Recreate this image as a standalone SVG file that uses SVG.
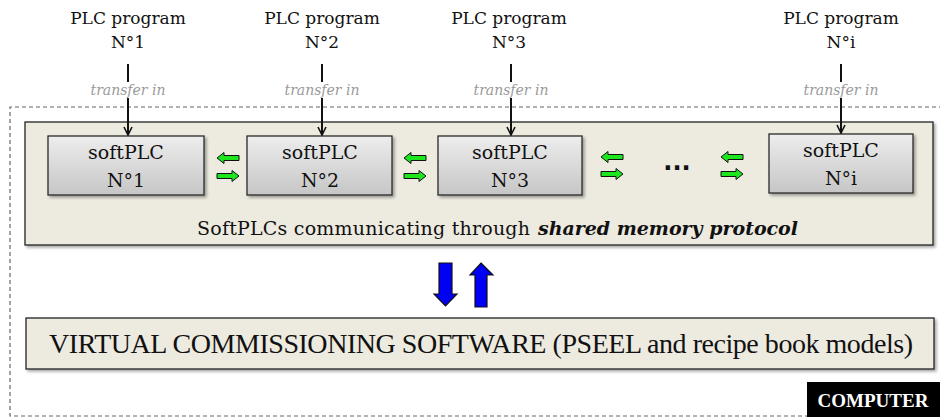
<svg xmlns="http://www.w3.org/2000/svg" width="940" height="417" viewBox="0 0 940 417">
<defs>
<style>
.ttl{font-family:"DejaVu Serif","Liberation Serif",serif;font-size:17px;fill:#111;text-anchor:middle}
.tin{font-family:"DejaVu Serif","Liberation Serif",serif;font-size:14px;font-style:italic;fill:#9a9a9a;text-anchor:middle}
.plc{font-family:"DejaVu Serif","Liberation Serif",serif;font-size:19px;fill:#111;text-anchor:middle}
.box{fill:url(#gg);stroke:#2a2a2a;stroke-width:1.3}
.beige{fill:#EDEAE0;stroke:#222;stroke-width:1.3}
.feed{stroke:#111;stroke-width:2;fill:none}
.grn{fill:#1EE61E;stroke:#111;stroke-width:1}
.blu{fill:#0000F5;stroke:#111;stroke-width:1.2}
</style>
<linearGradient id="gg" x1="0" y1="0" x2="0" y2="1">
<stop offset="0" stop-color="#EDEDED"/>
<stop offset="1" stop-color="#C6C6C6"/>
</linearGradient>
<filter id="sh" x="-10%" y="-10%" width="120%" height="130%">
<feDropShadow dx="2" dy="2" stdDeviation="1.5" flood-color="#000" flood-opacity="0.35"/>
</filter>
<marker id="ah" viewBox="0 0 10 10" refX="9" refY="5" markerWidth="10" markerHeight="10" markerUnits="userSpaceOnUse" orient="auto">
<path d="M1,1 L9,5 L1,9" fill="none" stroke="#111" stroke-width="1.6"/>
</marker>
<path id="gl" d="M0,0 L7,-5.5 L7,-2.5 L22,-2.5 L22,2.5 L7,2.5 L7,5.5 Z"/>
<path id="gr" d="M22,0 L15,-5.5 L15,-2.5 L0,-2.5 L0,2.5 L15,2.5 L15,5.5 Z"/>
</defs>
<rect width="940" height="417" fill="#fff"/>

<g id="computer">
<path d="M950,107 L10,107 L10,416 L950,416" fill="none" stroke="#666" stroke-width="1.2" stroke-dasharray="4,3"/>
<rect x="807" y="382" width="133" height="35" fill="#000"/>
<text x="873" y="407" text-anchor="middle" style="font-family:'Liberation Serif','DejaVu Serif',serif;font-size:19px;font-weight:bold;fill:#fff">COMPUTER</text>
</g>

<g id="programs">
<text class="ttl" x="128" y="24">PLC program</text><text class="ttl" x="128" y="48">N°1</text>
<text class="ttl" x="322" y="24">PLC program</text><text class="ttl" x="322" y="48">N°2</text>
<text class="ttl" x="509" y="24">PLC program</text><text class="ttl" x="509" y="48">N°3</text>
<text class="ttl" x="841" y="24">PLC program</text><text class="ttl" x="841" y="48">N°i</text>
</g>

<g id="container">
<rect class="beige" x="25" y="122" width="908" height="123" filter="url(#sh)"/>
<text x="197" y="235" textLength="333" lengthAdjust="spacing" style="font-family:'DejaVu Serif','Liberation Serif',serif;font-size:19px;fill:#111">SoftPLCs communicating through</text>
<text x="538" y="235" textLength="260" lengthAdjust="spacingAndGlyphs" style="font-family:'DejaVu Serif','Liberation Serif',serif;font-size:19px;font-weight:bold;font-style:italic;fill:#111">shared memory protocol</text>
</g>

<g id="softplc1">
<rect class="box" x="48" y="136" width="156" height="59" filter="url(#sh)"/>
<text class="plc" x="126" y="159">softPLC</text><text class="plc" x="126" y="187">N°1</text>
</g>
<g id="softplc2">
<rect class="box" x="247" y="136" width="145" height="59" filter="url(#sh)"/>
<text class="plc" x="320" y="159">softPLC</text><text class="plc" x="320" y="187">N°2</text>
</g>
<g id="softplc3">
<rect class="box" x="438" y="136" width="144" height="59" filter="url(#sh)"/>
<text class="plc" x="510" y="159">softPLC</text><text class="plc" x="510" y="187">N°3</text>
</g>
<g id="softplci">
<rect class="box" x="769" y="134" width="144" height="59" filter="url(#sh)"/>
<text class="plc" x="841" y="157">softPLC</text><text class="plc" x="841" y="185">N°i</text>
</g>

<g id="ellipsis">
<text x="677" y="170" text-anchor="middle" style="font-family:'DejaVu Sans',sans-serif;font-size:24px;font-weight:bold;fill:#111">...</text>
</g>

<g id="vcs">
<rect class="beige" x="26" y="318" width="908" height="51" filter="url(#sh)"/>
<text x="49" y="353" textLength="864" lengthAdjust="spacing" style="font-family:'Liberation Serif','DejaVu Serif',serif;font-size:28px;fill:#111">VIRTUAL COMMISSIONING  SOFTWARE (PSEEL and recipe book models)</text>
</g>

<g id="connectors">
<line class="feed" x1="128" y1="64" x2="128" y2="82"/><line class="feed" x1="128" y1="98" x2="128" y2="135" marker-end="url(#ah)"/>
<text class="tin" x="128" y="95">transfer in</text>
<line class="feed" x1="322" y1="64" x2="322" y2="82"/><line class="feed" x1="322" y1="98" x2="322" y2="135" marker-end="url(#ah)"/>
<text class="tin" x="322" y="95">transfer in</text>
<line class="feed" x1="511" y1="64" x2="511" y2="82"/><line class="feed" x1="511" y1="98" x2="511" y2="135" marker-end="url(#ah)"/>
<text class="tin" x="511" y="95">transfer in</text>
<line class="feed" x1="841" y1="64" x2="841" y2="82"/><line class="feed" x1="841" y1="98" x2="841" y2="133" marker-end="url(#ah)"/>
<text class="tin" x="841" y="95">transfer in</text>

<use href="#gl" class="grn" x="217" y="158"/><use href="#gr" class="grn" x="217" y="176"/>
<use href="#gl" class="grn" x="404" y="158"/><use href="#gr" class="grn" x="404" y="176"/>
<use href="#gl" class="grn" x="601" y="157"/><use href="#gr" class="grn" x="601" y="174"/>
<use href="#gl" class="grn" x="721" y="157"/><use href="#gr" class="grn" x="721" y="174"/>

<path class="blu" d="M439,263 L452,263 L452,294 L457,294 L445.5,306 L434,294 L439,294 Z"/>
<path class="blu" d="M481,263 L493,275 L487,275 L487,307 L475,307 L475,275 L470,275 Z"/>
</g>
</svg>
